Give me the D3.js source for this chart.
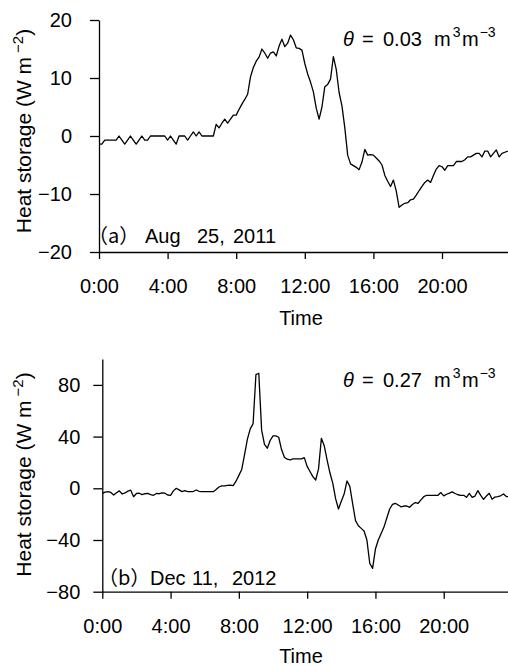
<!DOCTYPE html>
<html lang="en">
<head>
  <meta charset="UTF-8">
  <title>Heat storage, Aug 25 2011 and Dec 11 2012</title>
  <script src="https://cdn.jsdelivr.net/npm/d3@7"></script>
  <style>
    body {
      margin: 0;
      background: #fff;
    }
    svg text {
      font-family: "Liberation Sans", Arial, "Noto Sans CJK JP", sans-serif;
      fill: #000;
    }
  </style>
</head>
<body>
<script>
const width = 508;
const height = 666;

// sampling step of both series (minutes)
const stepMinutes = 10;

const hourTicks = [0, 4, 8, 12, 16, 20];
const hourTickLabels = ["0:00", "4:00", "8:00", "12:00", "16:00", "20:00"];

const augTicks = [-20, -10, 0, 10, 20];
const decTicks = [-80, -40, 0, 40, 80];

// heat storage, W m-2, one value every 10 min from 0:00
const aug25 = [
  -1.4, -1.4, -0.7, -0.7, -0.7, -0.7, -0.7, 0, -0.7, -1.4, -0.7, 0,
  -0.7, -1.4, -0.7, 0, -0.7, -0.7, 0, 0, 0, 0, 0, 0,
  -0.7, 0, -0.7, -1.4, 0, 0, 0, -0.7, 0, 0.7, 0, 0.7,
  0, 0, 0, 0, 0, 2.0, 1.4, 2.2, 2.9, 2.2, 2.9, 3.6,
  3.6, 4.6, 5.5, 6.3, 7.2, 10.2, 11.8, 12.9, 13.6, 15.0, 14.3, 13.4,
  14.3, 14.5, 13.8, 15.5, 16.7, 15.4, 16.0, 17.4, 16.6, 15.2, 15.1, 14.8,
  12.5, 10.7, 9.3, 7.6, 4.8, 2.9, 5.0, 8.5, 8.9, 9.8, 13.7, 11.5,
  7.5, 5.2, 1.4, -3.3, -4.8, -5.1, -5.4, -5.8, -4.5, -2.3, -3.3, -3.2,
  -3.3, -3.8, -4.3, -5.0, -6.8, -7.8, -8.7, -7.6, -9.5, -12.3, -11.9, -11.6,
  -11.5, -11.0, -10.9, -10.2, -9.4, -8.7, -8.0, -7.6, -8.0, -6.8, -5.7, -5.1,
  -5.3, -5.9, -5.1, -5.1, -5.1, -4.4, -4.4, -4.4, -4.1, -3.6, -3.6, -3.3,
  -3.0, -3.0, -3.6, -2.6, -2.6, -3.6, -3.0, -2.4, -3.6, -3.0, -2.8, -2.6
];

const dec11 = [
  -3.9, -3.0, -2.6, -3.2, -5.2, -3.5, -2.0, -4.4, -3.6, -2.2, -1.5, -6.5,
  -4.0, -3.8, -4.9, -4.2, -4.0, -4.9, -5.4, -4.0, -4.2, -3.6, -3.8, -5.2,
  -5.4, -2.0, 0, -1.2, -2.6, -1.8, -2.5, -2.6, -2.5, -1.3, -2.3, -2.6,
  -2.6, -2.6, -2.6, -2.6, -1.0, 1.0, 1.8, 1.8, 2.3, 2.5, 2.0, 5.5,
  10.0, 14.5, 26, 38, 46, 50, 88, 89, 45, 34, 31, 37,
  40.5, 40.5, 39.5, 30, 24, 22.5, 21.9, 22.7, 22.7, 22.7, 22.7, 23.7,
  17, 13, 9, 6.4, 15, 38.7, 33, 22, 12, 4, -8, -16,
  -10, -4.5, 5.7, 1.5, -12, -25, -29, -31, -33, -40, -58, -62,
  -47, -40, -35, -30, -23, -16, -12.5, -11.6, -12.9, -14.3, -13.7, -13.7,
  -14.7, -12.5, -11, -11.6, -9, -6.5, -5.4, -5.4, -5.4, -5.4, -5.4, -3.3,
  -5.9, -4.6, -3.8, -2.8, -4.0, -5.0, -5.4, -5.4, -7.0, -3.9, -7.0, -6.0,
  -1.8, -5.5, -8.5, -6.0, -3.9, -8.5, -6.8, -6.4, -5.8, -4.4, -6.4, -6.5
];

const svg = d3.select("body").append("svg")
  .attr("width", width)
  .attr("height", height)
  .attr("viewBox", [0, 0, width, height]);

const fmtTick = d => (d < 0 ? "\u2212" + Math.abs(d) : String(d));

function drawPanel(p) {
  const x = d3.scaleLinear().domain([0, 24]).range(p.xRange);
  const y = d3.scaleLinear().domain(p.yDomain).range(p.yRange);
  const g = svg.append("g");

  const xAxis = g.append("g")
    .attr("transform", `translate(0,${p.yRange[0]})`)
    .call(d3.axisBottom(x)
      .tickValues(hourTicks)
      .tickFormat((d, i) => hourTickLabels[i])
      .tickSize(7)
      .tickPadding(20)
      .tickSizeOuter(0));

  const yAxis = g.append("g")
    .attr("transform", `translate(${p.xRange[0]},0)`)
    .call(d3.axisLeft(y)
      .tickValues(p.ticks)
      .tickFormat(fmtTick)
      .tickSize(9)
      .tickPadding(p.tickPad)
      .tickSizeOuter(0));

  [xAxis, yAxis].forEach(a => {
    a.attr("font-size", null).attr("font-family", null);
    a.select(".domain").attr("stroke", "#000").attr("stroke-width", 1.3);
    a.selectAll(".tick line").attr("stroke", "#000").attr("stroke-width", 1.3);
    a.selectAll(".tick text").style("font-size", "20px");
  });

  const line = d3.line()
    .x((d, i) => x(i * stepMinutes / 60))
    .y(d => y(d));

  g.append("path")
    .datum(p.values)
    .attr("fill", "none")
    .attr("stroke", "#000")
    .attr("stroke-width", 1.3)
    .attr("stroke-linejoin", "round")
    .attr("d", line);

  // y axis title
  const yt = g.append("text")
    .attr("transform", `translate(${p.yTitleX},${p.yTitleY}) rotate(-90)`)
    .attr("text-anchor", "middle")
    .style("font-size", "21px");
  yt.append("tspan").text("Heat storage (W m");
  yt.append("tspan").attr("dx", 4).attr("dy", -8).style("font-size", "15px").text("\u22122");
  yt.append("tspan").attr("dy", 8).text(")");

  // x axis title
  g.append("text")
    .attr("x", 301)
    .attr("y", p.timeY)
    .attr("text-anchor", "middle")
    .style("font-size", "20px")
    .text("Time");

  // panel label, full-width brackets as in the original
  const lab = g.append("text")
    .attr("y", p.labelY)
    .style("font-size", "20px");
  p.label.forEach((s, i) => {
    const t = lab.append("tspan").attr("x", p.labelX[i]).text(s);
    if (i === 0) t.style("font-family", "'Noto Sans CJK JP', sans-serif");
  });

  // soil moisture note
  const th = g.append("text")
    .attr("y", p.thetaY)
    .style("font-size", "20px");
  th.append("tspan").attr("x", 343).style("font-style", "italic").text("\u03b8");
  th.append("tspan").attr("x", 362).text("=");
  th.append("tspan").attr("x", 383).text(p.theta);
  th.append("tspan").attr("x", 434).text("m");
  th.append("tspan").attr("dx", 2).attr("dy", -9).style("font-size", "14px").text("3");
  th.append("tspan").attr("x", 462).attr("dy", 9).text("m");
  th.append("tspan").attr("dx", 1).attr("dy", -9).style("font-size", "14px").text("\u22123");
}

drawPanel({
  values: aug25,
  xRange: [99, 510.6],
  yDomain: [-20, 20],
  yRange: [252, 20],
  ticks: augTicks,
  tickPad: 18,
  yTitleX: 31,
  yTitleY: 131,
  timeY: 325,
  label: ["\uff08a\uff09", "Aug", "25,", "2011"],
  labelX: [88, 145, 197, 233],
  labelY: 243,
  theta: "0.03",
  thetaY: 45.5
});

drawPanel({
  values: dec11,
  xRange: [102.3, 512],
  yDomain: [-80, 100],
  yRange: [591.7, 359.05],
  ticks: decTicks,
  tickPad: 13,
  yTitleX: 31,
  yTitleY: 474.5,
  timeY: 663,
  label: ["\uff08b\uff09", "Dec", "11,", "2012"],
  labelX: [98, 150, 192, 232],
  labelY: 585,
  theta: "0.27",
  thetaY: 386.5
});
</script>
</body>
</html>
